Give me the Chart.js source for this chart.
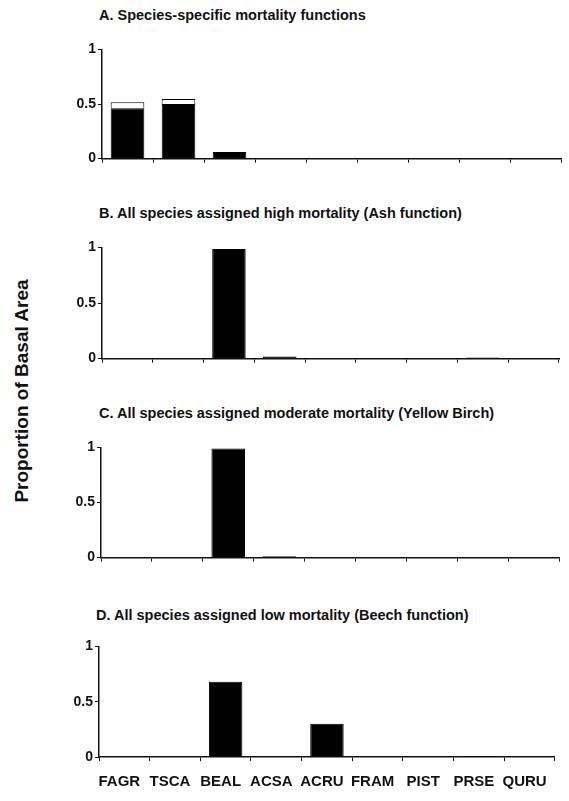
<!DOCTYPE html>
<html>
<head>
<meta charset="utf-8">
<script src="https://cdn.jsdelivr.net/npm/chart.js@4/dist/chart.umd.min.js"></script>
<style>
  html, body { margin: 0; padding: 0; background: #fff; }
  #wrap { position: relative; width: 569px; height: 801px; overflow: hidden; font-family: "Liberation Sans", Arial, sans-serif; color: #111; }
  canvas { position: absolute; }
  .ttl { position: absolute; font-weight: bold; font-size: 14.5px; line-height: 1; white-space: nowrap; }
  #ylab { position: absolute; left: 21px; top: 391px; font-weight: bold; font-size: 19px; line-height: 1; white-space: nowrap;
          transform: translate(-50%, -50%) rotate(-90deg); }
</style>
</head>
<body>
<div id="wrap">
  <div class="ttl" style="left:99px; top:8px">A. Species-specific mortality functions</div>
  <div class="ttl" style="left:99px; top:206px">B. All species assigned high mortality (Ash function)</div>
  <div class="ttl" style="left:99px; top:406px">C. All species assigned moderate mortality (Yellow Birch)</div>
  <div class="ttl" style="left:96px; top:608px">D. All species assigned low mortality (Beech function)</div>
  <div id="ylab">Proportion of Basal Area</div>
  <canvas id="chartA" width="510" height="130" style="left:57px; top:39px"></canvas>
  <canvas id="chartB" width="508" height="132" style="left:57px; top:237px"></canvas>
  <canvas id="chartC" width="509" height="131" style="left:56px; top:437px"></canvas>
  <canvas id="chartD" width="510" height="161" style="left:54px; top:636px"></canvas>
</div>
<script>
const species = ['FAGR', 'TSCA', 'BEAL', 'ACSA', 'ACRU', 'FRAM', 'PIST', 'PRSE', 'QURU']
const yTicks = [0, 0.5, 1]

// A. species-specific mortality functions (black part + open part on top)
const speciesSpecific = [0.46, 0.50, 0.06, 0, 0, 0, 0, 0, 0]
const speciesSpecificUpper = [0.055, 0.045, 0, 0, 0, 0, 0, 0, 0]
// B. high mortality (Ash function)
const highMortality = [0, 0, 0.985, 0.02, 0, 0.003, 0, 0.01, 0.004]
// C. moderate mortality (Yellow Birch)
const moderateMortality = [0, 0, 0.99, 0.012, 0, 0, 0, 0.003, 0]
// D. low mortality (Beech function)
const lowMortality = [0, 0, 0.68, 0, 0.30, 0, 0, 0.008, 0]

const ink = '#111'

function makePanel(id, series, showLabels) {
  const datasets = series.map((s, i) => ({
    data: s,
    backgroundColor: i === 0 ? '#000' : '#fff',
    borderColor: '#000',
    borderWidth: 1,
    barPercentage: 0.66,
    categoryPercentage: 1,
  }))

  return new Chart(document.getElementById(id), {
    type: 'bar',
    data: { labels: species, datasets },
    options: {
      responsive: false,
      animation: false,
      layout: { padding: { top: 10, right: 6, left: 0, bottom: 0 } },
      scales: {
        x: {
          stacked: true,
          afterFit: scale => { scale.height = showLabels ? 40 : 10 },
          grid: { drawOnChartArea: false, color: ink, lineWidth: 1, tickLength: 4, offset: true },
          border: { color: ink, width: 1.5 },
          ticks: {
            display: showLabels,
            color: ink,
            padding: 12,
            labelOffset: -5,
            maxRotation: 0,
            autoSkip: false,
            font: { family: 'Liberation Sans', size: 15, weight: 'bold' },
          },
        },
        y: {
          stacked: true,
          min: 0,
          max: 1,
          afterFit: scale => { scale.width = 45 },
          afterBuildTicks: scale => { scale.ticks = yTicks.map(v => ({ value: v })) },
          grid: { drawOnChartArea: false, color: ink, lineWidth: 1, tickLength: 4 },
          border: { color: ink, width: 1.5 },
          ticks: {
            color: ink,
            padding: 2,
            callback: v => String(v),
            font: { family: 'Liberation Sans', size: 14, weight: 'bold' },
          },
        },
      },
      plugins: {
        legend: { display: false },
        tooltip: { enabled: false },
      },
    },
  })
}

makePanel('chartA', [speciesSpecific, speciesSpecificUpper], false)
makePanel('chartB', [highMortality], false)
makePanel('chartC', [moderateMortality], false)
makePanel('chartD', [lowMortality], true)
</script>
</body>
</html>
